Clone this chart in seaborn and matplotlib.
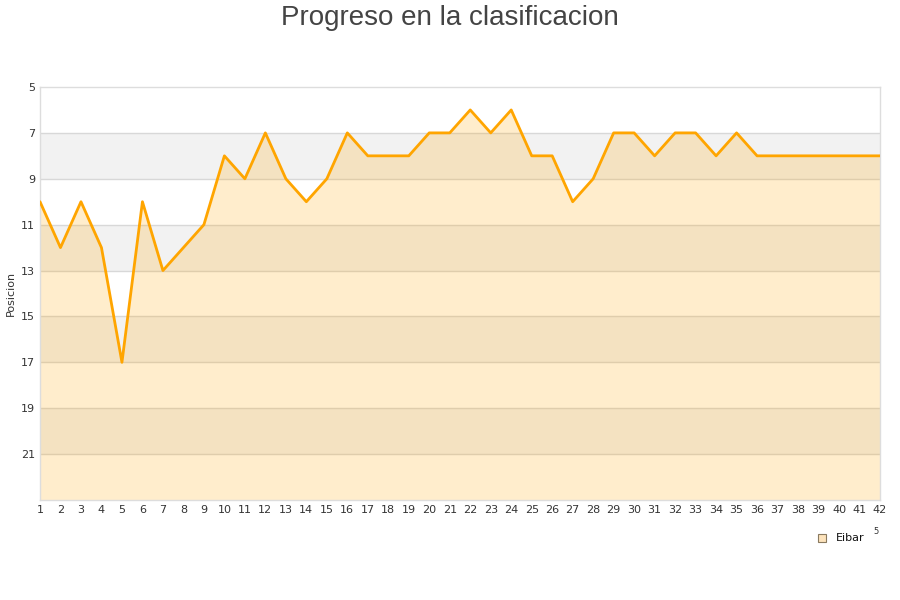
import pandas as pd
import numpy as np
import matplotlib
matplotlib.use('Agg')
import matplotlib.pyplot as plt
import seaborn as sns

# datos: jornada y posicion del Eibar
jornadas = list(range(1, 43))
posiciones = [10, 12, 10, 12, 17, 10, 13, 12, 11, 8,
              9, 7, 9, 10, 9, 7, 8, 8, 8, 7,
              7, 6, 7, 6, 8, 8, 10, 9, 7, 7,
              8, 7, 7, 8, 7, 8, 8, 8, 8, 8,
              8, 8]
equipo = 'Eibar'
y_ticks = [5, 7, 9, 11, 13, 15, 17, 19, 21]

sns.set_style('white')
plt.rcParams['font.family'] = ['DejaVu Sans']

df = pd.DataFrame({'jornada': jornadas, 'posicion': posiciones})

fig = plt.figure(figsize=(9, 6), dpi=100)
ax = fig.add_axes([40 / 900, 1 - 500 / 600, 840 / 900, 413 / 600])

# bandas alternas grises
for b in range(7, 23, 4):
    ax.axhspan(b, b + 2, color='#f2f2f2', zorder=0, lw=0)
for t in y_ticks[1:]:
    ax.axhline(t, color='#d8d8d8', lw=1, zorder=1)

ax.fill_between(df['jornada'], df['posicion'], 23, color='#ffa500', alpha=0.2, lw=0, zorder=2)
sns.lineplot(data=df, x='jornada', y='posicion', color='#ffa500', lw=2, ax=ax, zorder=3)

ax.set_xlim(1, 42)
ax.set_ylim(23, 5)
ax.set_xticks(jornadas)
ax.set_yticks(y_ticks)
ax.tick_params(axis='both', labelsize=8, colors='#333333', length=0)
ax.set_xlabel('')
ax.set_ylabel('Posicion', fontsize=8, color='#333333')
for s in ax.spines.values():
    s.set_color('#dddddd')
    s.set_linewidth(1)

fig.text(0.5, 1 - 25 / 600, 'Progreso en la clasificacion', ha='center', va='baseline',
         fontsize=20, color='#444444', family=['Liberation Sans', 'DejaVu Sans'])

# leyenda
fig.patches.append(plt.Rectangle((818 / 900, 1 - 542 / 600), 8 / 900, 8 / 600,
                                 transform=fig.transFigure, facecolor='#fde3bc',
                                 edgecolor='#8a7a60', lw=0.8))
fig.text(836 / 900, 1 - 538 / 600, equipo, fontsize=8, va='center', color='#111111')
fig.text(873 / 900, 1 - 532 / 600, '5', fontsize=6, va='center', color='#333333')

fig.savefig('out.png', dpi=100)
